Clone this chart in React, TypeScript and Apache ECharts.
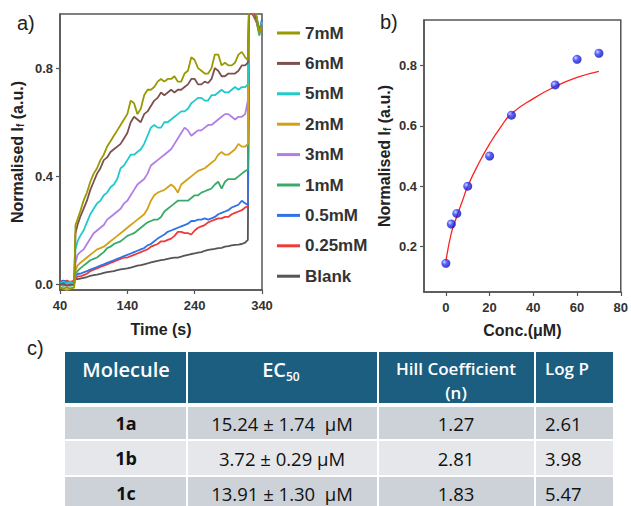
import React, { useEffect, useRef } from "react";
import * as echarts from "echarts";

// ---------- Panel a: time traces ----------
const TIME = [
  40, 45, 50, 55, 61, 63, 66,
  70, 75, 80, 85, 90, 95, 100, 105, 110, 115,
  120, 125, 130, 135, 140, 145, 150, 155, 160, 165,
  170, 175, 180, 185, 190, 195, 200, 205, 210, 215,
  220, 225, 230, 235, 240, 245, 250, 255, 260, 265,
  270, 275, 280, 285, 290, 295, 300, 305, 310, 315,
  319, 321, 324, 328, 332, 336, 340,
];

const SERIES_NAMES = ["7mM", "6mM", "5mM", "2mM", "3mM", "1mM", "0.5mM", "0.25mM", "Blank"];

const V_7MM = [
  -0.01, -0.015, -0.01, -0.015, -0.01, 0.22, 0.24,
  0.27, 0.31, 0.34, 0.38, 0.41, 0.43, 0.46, 0.48, 0.51, 0.53,
  0.55, 0.57, 0.59, 0.61, 0.63, 0.68, 0.67, 0.63, 0.65, 0.70,
  0.72, 0.72, 0.73, 0.75, 0.76, 0.75, 0.76, 0.76, 0.77, 0.75,
  0.75, 0.78, 0.79, 0.84, 0.83, 0.80, 0.79, 0.78, 0.78, 0.80,
  0.85, 0.85, 0.81, 0.82, 0.81, 0.81, 0.82, 0.85, 0.86, 0.84,
  0.83, 1.08, 1.03, 1.02, 0.99, 0.93, 0.96,
];
const V_6MM = [
  0.0, 0.005, -0.005, 0.0, 0.0, 0.19, 0.22,
  0.25, 0.28, 0.31, 0.35, 0.38, 0.41, 0.43, 0.46, 0.47, 0.49,
  0.50, 0.51, 0.52, 0.54, 0.56, 0.60, 0.62, 0.61, 0.60, 0.63,
  0.64, 0.66, 0.68, 0.69, 0.71, 0.70, 0.71, 0.72, 0.71, 0.72,
  0.72, 0.73, 0.74, 0.76, 0.76, 0.74, 0.74, 0.75, 0.745, 0.76,
  0.80, 0.79, 0.77, 0.77, 0.78, 0.78, 0.78, 0.79, 0.81, 0.81,
  0.82, 1.06, 1.04, 1.01, 0.98, 0.94, 0.96,
];
const V_5MM = [
  0.005, 0.01, 0.005, 0.01, 0.005, 0.13, 0.16,
  0.18, 0.20, 0.23, 0.26, 0.28, 0.30, 0.31, 0.33, 0.34, 0.36,
  0.37, 0.39, 0.43, 0.44, 0.46, 0.48, 0.48, 0.49, 0.50, 0.52,
  0.55, 0.58, 0.59, 0.58, 0.58, 0.60, 0.60, 0.61, 0.62, 0.63,
  0.64, 0.64, 0.65, 0.67, 0.68, 0.69, 0.69, 0.68, 0.68, 0.70,
  0.70, 0.71, 0.72, 0.71, 0.71, 0.72, 0.73, 0.72, 0.73, 0.73,
  0.74, 1.07, 1.02, 1.0, 0.99, 0.93, 0.97,
];
const V_2MM = [
  -0.01, -0.015, -0.02, -0.015, -0.01, 0.05, 0.07,
  0.08, 0.09, 0.10, 0.11, 0.12, 0.13, 0.135, 0.14, 0.15, 0.16,
  0.17, 0.18, 0.19, 0.20, 0.21, 0.22, 0.23, 0.24, 0.25, 0.26,
  0.28, 0.31, 0.33, 0.34, 0.345, 0.35, 0.36, 0.37, 0.36, 0.34,
  0.37, 0.38, 0.39, 0.40, 0.41, 0.42, 0.425, 0.43, 0.44, 0.45,
  0.46, 0.48, 0.49, 0.48, 0.48, 0.49, 0.50, 0.52, 0.51, 0.51,
  0.52, 1.05, 1.03, 1.01, 0.98, 0.94, 0.96,
];
const V_3MM = [
  0.0, 0.005, 0.0, 0.005, 0.0, 0.08, 0.11,
  0.12, 0.13, 0.15, 0.17, 0.19, 0.20, 0.21, 0.22, 0.24, 0.25,
  0.26, 0.27, 0.28, 0.30, 0.31, 0.33, 0.35, 0.37, 0.38, 0.39,
  0.41, 0.44, 0.45, 0.46, 0.47, 0.48, 0.49, 0.50, 0.52, 0.54,
  0.56, 0.58, 0.57, 0.55, 0.56, 0.57, 0.57, 0.58, 0.59, 0.59,
  0.60, 0.61, 0.62, 0.63, 0.63, 0.62, 0.61, 0.62, 0.62, 0.63,
  0.68, 1.06, 1.02, 1.02, 0.99, 0.93, 0.97,
];
const V_1MM = [
  0.0, -0.005, 0.0, -0.005, 0.0, 0.04, 0.05,
  0.06, 0.07, 0.08, 0.09, 0.095, 0.10, 0.11, 0.12, 0.135, 0.14,
  0.15, 0.155, 0.16, 0.17, 0.18, 0.185, 0.19, 0.20, 0.21, 0.22,
  0.23, 0.235, 0.24, 0.24, 0.25, 0.27, 0.28, 0.29, 0.30, 0.31,
  0.31, 0.31, 0.31, 0.32, 0.33, 0.33, 0.34, 0.345, 0.35, 0.355,
  0.37, 0.38, 0.355, 0.38, 0.39, 0.39, 0.39, 0.40, 0.41, 0.42,
  0.425, 1.08, 1.04, 1.01, 0.97, 0.92, 0.96,
];
const V_05MM = [
  0.01, 0.015, 0.01, 0.005, 0.01, 0.03, 0.04,
  0.04, 0.045, 0.05, 0.055, 0.06, 0.065, 0.07, 0.075, 0.08, 0.085,
  0.09, 0.095, 0.10, 0.105, 0.11, 0.115, 0.12, 0.125, 0.13, 0.135,
  0.145, 0.15, 0.16, 0.17, 0.178, 0.185, 0.195, 0.20, 0.205, 0.21,
  0.215, 0.22, 0.225, 0.235, 0.235, 0.24, 0.24, 0.245, 0.24, 0.245,
  0.25, 0.26, 0.265, 0.27, 0.275, 0.285, 0.29, 0.295, 0.31, 0.30,
  0.295, 1.05, 1.03, 1.0, 0.98, 0.94, 0.98,
];
const V_025MM = [
  0.015, 0.01, 0.015, 0.01, 0.015, 0.02, 0.03,
  0.03, 0.035, 0.04, 0.05, 0.055, 0.06, 0.065, 0.07, 0.075, 0.08,
  0.085, 0.09, 0.095, 0.10, 0.10, 0.105, 0.11, 0.115, 0.12, 0.125,
  0.13, 0.14, 0.145, 0.15, 0.16, 0.16, 0.165, 0.17, 0.18, 0.195,
  0.195, 0.19, 0.19, 0.185, 0.20, 0.21, 0.215, 0.22, 0.23, 0.235,
  0.24, 0.245, 0.245, 0.25, 0.25, 0.26, 0.265, 0.27, 0.275, 0.285,
  0.29, 1.04, 1.01, 0.99, 0.97, 0.93, 0.97,
];
const V_BLANK = [
  0.005, 0.0, 0.005, 0.0, 0.005, 0.02, 0.02,
  0.022, 0.025, 0.028, 0.032, 0.035, 0.037, 0.04, 0.043, 0.046, 0.048,
  0.05, 0.053, 0.056, 0.058, 0.06, 0.063, 0.066, 0.07, 0.072, 0.075,
  0.078, 0.082, 0.085, 0.088, 0.09, 0.092, 0.095, 0.098, 0.10, 0.10,
  0.103, 0.107, 0.11, 0.113, 0.115, 0.118, 0.12, 0.125, 0.128, 0.13,
  0.132, 0.135, 0.136, 0.14, 0.142, 0.145, 0.147, 0.148, 0.15, 0.155,
  0.165, 1.02, 1.01, 0.99, 0.97, 0.94, 0.96,
];
const SERIES_VALUES = [V_7MM, V_6MM, V_5MM, V_2MM, V_3MM, V_1MM, V_05MM, V_025MM, V_BLANK];
const SERIES_COLORS = ["#999900", "#7d5050", "#1fcaca", "#d4a017", "#b27ee6", "#3aaa6a", "#2f74e6", "#f03a3a", "#555555"];

const A_X_TICKS = [40, 140, 240, 340];
const A_Y_TICKS = [0, 0.4, 0.8];

// ---------- Panel b: dose response ----------
const CONC = [0, 2.5, 5, 10, 20, 30, 50, 60, 70];
const RESPONSE = [0.145, 0.275, 0.31, 0.4, 0.5, 0.635, 0.735, 0.82, 0.84];
const FIT_CONC = [0, 2.5, 5, 7.5, 10, 15, 20, 25, 30, 40, 50, 60, 70];
const FIT_RESPONSE = [0.15, 0.245, 0.3, 0.35, 0.4, 0.475, 0.54, 0.595, 0.64, 0.69, 0.73, 0.76, 0.78];
const B_X_TICKS = [0, 20, 40, 60, 80];
const B_Y_TICKS = [0.2, 0.4, 0.6, 0.8];

// ---------- Panel c: table ----------
const TABLE_HEADERS = ["Molecule", "EC", "Hill Coefficient", "(n)", "Log P"];
const MOLECULES = ["1a", "1b", "1c"];
const EC50_VALUES = ["15.24 ± 1.74  μM", "3.72 ± 0.29 μM", "13.91 ± 1.30  μM"];
const HILL_VALUES = ["1.27", "2.81", "1.83"];
const LOGP_VALUES = ["2.61", "3.98", "5.47"];

const AX_FONT = "Liberation Sans";
const TB_FONT = "Open Sans";

export default function App() {
  const ref = useRef<HTMLDivElement>(null);

  useEffect(() => {
    const chart = echarts.init(ref.current!, null, { renderer: "svg" });

    const axisLine = { show: true, onZero: false, lineStyle: { color: "#555", width: 1.5 } };
    const tickStyle = { color: "#555", width: 1.2 };
    const labelStyle = { fontFamily: AX_FONT, fontWeight: "bold" as const, fontSize: 13, color: "#333" };
    const nameStyle = {
      fontFamily: AX_FONT,
      fontWeight: "bold" as const,
      fontSize: 16,
      color: "#222",
      rich: {
        s: { fontFamily: AX_FONT, fontWeight: "bold" as const, fontSize: 10, color: "#222", verticalAlign: "bottom" as const, lineHeight: 12 },
      },
    };

    const lineSeries = SERIES_NAMES.map((name, i) => ({
      name,
      type: "line",
      xAxisIndex: 0,
      yAxisIndex: 0,
      showSymbol: false,
      symbol: "none",
      clip: true,
      data: TIME.map((t, k) => [t, SERIES_VALUES[i][k]]),
      lineStyle: { color: SERIES_COLORS[i], width: 1.8 },
      itemStyle: { color: SERIES_COLORS[i] },
      z: 10 - i,
    }));

    const rowTops = [407, 441, 477];
    const rowHeights = [32, 34, 32];
    const rowFills = ["#cdd1d8", "#e5e7eb", "#cdd1d8"];
    const rowCenters = [423, 458, 493];
    const colSeps = [187, 378, 535];

    const graphics: any[] = [
      { type: "text", x: 17, y: 23, style: { text: "a)", font: `20px ${AX_FONT}`, fill: "#222", textVerticalAlign: "middle", verticalAlign: "middle" } },
      { type: "text", x: 380, y: 22, style: { text: "b)", font: `20px ${AX_FONT}`, fill: "#222", textVerticalAlign: "middle", verticalAlign: "middle" } },
      { type: "text", x: 27, y: 348, style: { text: "c)", font: `20px ${AX_FONT}`, fill: "#222", textVerticalAlign: "middle", verticalAlign: "middle" } },
      { type: "rect", shape: { x: 65, y: 352, width: 548, height: 51 }, style: { fill: "#1b5e80" } },
    ];
    rowTops.forEach((y, i) => {
      graphics.push({ type: "rect", shape: { x: 65, y, width: 548, height: rowHeights[i] }, style: { fill: rowFills[i] } });
    });
    colSeps.forEach((x) => {
      graphics.push({ type: "rect", shape: { x: x - 1, y: 352, width: 2, height: 160 }, style: { fill: "#ffffff" } });
    });
    const txt = (text: string, x: number, y: number, font: string, fill: string, align: string) => ({
      type: "text",
      x,
      y,
      style: { text, font, fill, textAlign: align, align, textVerticalAlign: "middle", verticalAlign: "middle" },
    });
    graphics.push(txt(TABLE_HEADERS[0], 126, 369, `600 20px ${TB_FONT}`, "#ffffff", "center"));
    graphics.push(txt(TABLE_HEADERS[1], 286, 369, `600 20px ${TB_FONT}`, "#ffffff", "right"));
    graphics.push(txt("50", 286, 376, `600 12px ${TB_FONT}`, "#ffffff", "left"));
    graphics.push(txt(TABLE_HEADERS[2], 456, 368, `600 17px ${TB_FONT}`, "#ffffff", "center"));
    graphics.push(txt(TABLE_HEADERS[3], 456, 392, `600 17px ${TB_FONT}`, "#ffffff", "center"));
    graphics.push(txt(TABLE_HEADERS[4], 545, 368, `600 17px ${TB_FONT}`, "#ffffff", "left"));
    MOLECULES.forEach((m, i) => {
      const y = rowCenters[i];
      graphics.push(txt(m, 126, y, `bold 18px ${TB_FONT}`, "#111", "center"));
      graphics.push(txt(EC50_VALUES[i], 282, y, `18.5px ${TB_FONT}`, "#111", "center"));
      graphics.push(txt(HILL_VALUES[i], 456, y, `18.5px ${TB_FONT}`, "#111", "center"));
      graphics.push(txt(LOGP_VALUES[i], 545, y, `18.5px ${TB_FONT}`, "#111", "left"));
    });

    const option: any = {
      animation: false,
      backgroundColor: "#ffffff",
      grid: [
        { left: 60, top: 14, width: 202, height: 276, show: true, borderColor: "#555", borderWidth: 1.5, backgroundColor: "transparent" },
        { left: 424, top: 20, width: 199, height: 272, show: true, borderColor: "#555", borderWidth: 1.5, backgroundColor: "transparent" },
      ],
      xAxis: [
        {
          gridIndex: 0,
          type: "value",
          min: 40,
          max: 340,
          axisLine,
          axisTick: { show: true, length: 4, customValues: A_X_TICKS, lineStyle: tickStyle },
          axisLabel: { ...labelStyle, customValues: A_X_TICKS, margin: 9 },
          splitLine: { show: false },
          name: "Time (s)",
          nameLocation: "middle",
          nameGap: 31,
          nameTextStyle: nameStyle,
        },
        {
          gridIndex: 1,
          type: "value",
          min: -10,
          max: 80,
          axisLine,
          axisTick: { show: true, length: 4, customValues: B_X_TICKS, lineStyle: tickStyle },
          axisLabel: { ...labelStyle, customValues: B_X_TICKS, margin: 9 },
          splitLine: { show: false },
          name: "Conc.(μM)",
          nameLocation: "middle",
          nameGap: 30,
          nameTextStyle: nameStyle,
        },
      ],
      yAxis: [
        {
          gridIndex: 0,
          type: "value",
          min: -0.02,
          max: 1.0,
          axisLine,
          axisTick: { show: true, length: 4, customValues: A_Y_TICKS, lineStyle: tickStyle },
          axisLabel: { ...labelStyle, customValues: A_Y_TICKS, margin: 7, formatter: (v: number) => v.toFixed(1) },
          splitLine: { show: false },
          name: "Normalised I{s|f} (a.u.)",
          nameLocation: "middle",
          nameGap: 35,
          nameTextStyle: nameStyle,
        },
        {
          gridIndex: 1,
          type: "value",
          min: 0.05,
          max: 0.95,
          axisLine,
          axisTick: { show: true, length: 4, customValues: B_Y_TICKS, lineStyle: tickStyle },
          axisLabel: { ...labelStyle, customValues: B_Y_TICKS, margin: 7, formatter: (v: number) => v.toFixed(1) },
          splitLine: { show: false },
          name: "Normalised I{s|f} (a.u.)",
          nameLocation: "middle",
          nameGap: 32,
          nameTextStyle: nameStyle,
        },
      ],
      legend: {
        data: SERIES_NAMES,
        orient: "vertical",
        left: 272,
        top: 19,
        icon: "rect",
        itemWidth: 23,
        itemHeight: 3,
        itemGap: 12.4,
        textStyle: { fontFamily: AX_FONT, fontWeight: "bold", fontSize: 17, color: "#333", lineHeight: 18 },
      },
      series: [
        ...lineSeries,
        {
          name: "fit",
          type: "line",
          xAxisIndex: 1,
          yAxisIndex: 1,
          smooth: true,
          showSymbol: false,
          symbol: "none",
          data: FIT_CONC.map((c, i) => [c, FIT_RESPONSE[i]]),
          lineStyle: { color: "#ff2020", width: 1.3 },
          z: 5,
        },
        {
          name: "data",
          type: "scatter",
          xAxisIndex: 1,
          yAxisIndex: 1,
          symbolSize: 9,
          data: CONC.map((c, i) => [c, RESPONSE[i]]),
          itemStyle: {
            color: {
              type: "radial",
              x: 0.35,
              y: 0.35,
              r: 0.75,
              colorStops: [
                { offset: 0, color: "#c8d0ff" },
                { offset: 0.35, color: "#3040ff" },
                { offset: 1, color: "#0000a8" },
              ],
            },
          },
          z: 6,
        },
      ],
      graphic: graphics,
    };

    chart.setOption(option);
    return () => chart.dispose();
  }, []);

  return (
    <div
      ref={ref}
      style={{ position: "fixed", left: 0, top: 0, width: 631, height: 506, background: "#fff" }}
    />
  );
}
